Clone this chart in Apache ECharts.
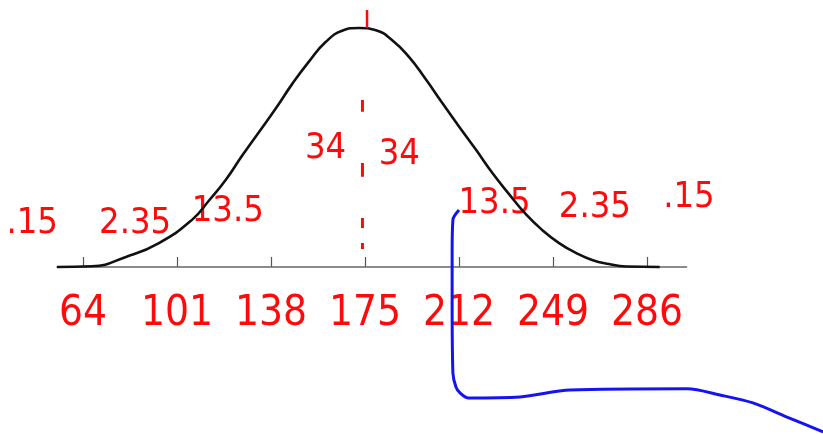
<!DOCTYPE html>
<html>
<head>
<meta charset="utf-8">
<script src="https://cdn.jsdelivr.net/npm/echarts@6/dist/echarts.min.js"></script>
<style>
  html, body { margin: 0; padding: 0; background: #fff; }
  #main { width: 823px; height: 434px; }
</style>
</head>
<body>
<div id="main"></div>
<script>
// tick values under the axis (mean 175, sd 37)
var tickValues = [64, 101, 138, 175, 212, 249, 286];

// bell curve: [value, height]
var curvePoints = [
  [53.7, 0], [67.5, 0.3], [80.9, 4.2], [93.9, 10], [106.9, 19.7], [113.6, 27.8],
  [120.3, 36.6], [126.6, 46.5], [133.3, 56.5], [140, 66.5], [146.3, 76.5], [153, 86],
  [159.6, 94.2], [166, 98.8], [172.6, 100], [179.3, 99], [185.6, 95], [192.3, 87.9],
  [199, 78.4], [205.3, 68.8], [212, 58.8], [218.7, 49], [225, 39.5], [231.7, 30.5],
  [238.4, 22], [244.7, 15.5], [251.4, 10], [258, 5.9], [264.4, 2.9], [271, 1.2],
  [277.8, 0.2], [291, 0]
];

// baseline of the axis
var baseLine = [[53.7, 0], [301.8, 0]];

// handwritten percentages and where they sit
var notes = ['.15', '2.35', '13.5', '34', '34', '13.5', '2.35', '.15'];
var notePos = [
  [44, 18], [84.5, 18], [121, 23], [159.5, 49.5], [188.5, 47], [226, 26.5], [265.5, 25], [302.5, 29]
];

// red dotted stroke at the mean, and the short stroke on top
var meanDashes = [
  [174, 69.9], [174, 64.9], '-', [174, 43.5], [174, 37.7], '-',
  [174, 20.5], [174, 16.3], '-', [174, 10], [174, 7.5]
];
var topStroke = [[175.8, 107.5], [175.8, 100]];

// blue pen line
var bluePath = [
  [212, 23.8], [209.6, 19.7], [209.3, 5.9], [209.3, -13.8], [209.6, -44.4],
  [210.8, -50.2], [212.4, -52.7], [215.5, -54.8], [236, -54.4], [255.7, -51.5],
  [301.8, -51], [314.7, -53.6], [327.7, -56.9], [341.1, -62.8], [355.3, -69]
];

var red = '#ff0a0a';
var handFont = '"DejaVu Sans Condensed", "Liberation Sans Narrow", "DejaVu Sans", sans-serif';

var chart = echarts.init(document.getElementById('main'));
chart.setOption({
  backgroundColor: '#fff',
  animation: false,
  grid: { left: 0, right: 0, top: 0, bottom: 0, outerBoundsMode: 'none', containLabel: false },
  xAxis: {
    type: 'value',
    min: 31.33,
    max: 355.28,
    offset: -167,
    axisLine: { show: false, onZero: false },
    splitLine: { show: false },
    axisTick: {
      show: true,
      inside: true,
      length: 10,
      customValues: tickValues,
      lineStyle: { color: '#555', width: 1.2 }
    },
    axisLabel: {
      show: true,
      customValues: tickValues,
      margin: 26,
      color: red,
      fontSize: 42,
      fontFamily: handFont
    }
  },
  yAxis: {
    type: 'value',
    min: -69.9,
    max: 111.7,
    show: false
  },
  series: [
    {
      type: 'line',
      data: baseLine,
      symbol: 'none',
      lineStyle: { color: '#666', width: 1.5 },
      silent: true
    },
    {
      type: 'line',
      data: curvePoints,
      symbol: 'none',
      smooth: true,
      lineStyle: { color: '#111', width: 2.6 },
      silent: true
    },
    {
      type: 'line',
      data: meanDashes,
      symbol: 'none',
      connectNulls: false,
      lineStyle: { color: red, width: 3 },
      silent: true
    },
    {
      type: 'line',
      data: topStroke,
      symbol: 'none',
      lineStyle: { color: red, width: 2.5 },
      silent: true
    },
    {
      type: 'line',
      data: bluePath,
      symbol: 'none',
      smooth: 0.3,
      clip: false,
      lineStyle: { color: '#1414f0', width: 3 },
      silent: true
    },
    {
      type: 'scatter',
      symbolSize: 0,
      itemStyle: { opacity: 1 },
      data: notePos.map(function (p, i) { return { name: notes[i], value: p }; }),
      label: {
        show: true,
        position: 'inside',
        formatter: '{b}',
        color: red,
        fontSize: 36,
        fontFamily: handFont
      },
      silent: true
    }
  ]
});
</script>
</body>
</html>
